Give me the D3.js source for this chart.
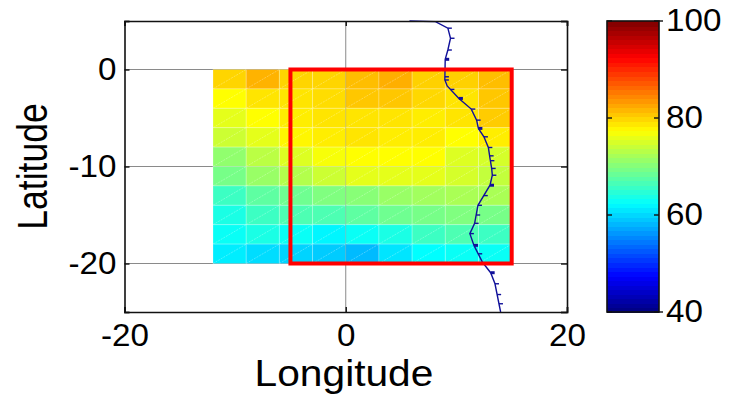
<!DOCTYPE html>
<html lang="en">

<head>
	<meta charset="UTF-8">
	<title>Latitude / Longitude map</title>
	<style>
		html, body { margin: 0; padding: 0; background: #fff; }
		svg { display: block; }
		text { font-family: "Liberation Sans", Arial, sans-serif; fill: #000; }
	</style>
</head>

<body>
	<div id="chart"></div>

	<script src="https://d3js.org/d3.v7.min.js"></script>
	<script>
		// data
		var lonEdges = [-12, -9, -6, -3, 0, 3, 6, 9, 12];
		var latEdges = [0, -2, -4, -6, -8, -10, -12, -14, -16, -18];
		var cellValues = [
			[80, 82, 80, 80, 81.3, 82.2, 80.2, 80.2, 81.3],
			[77.5, 79, 79, 79.5, 80.8, 80.8, 79.8, 79, 80.8],
			[76, 77.5, 78.5, 79, 79, 79, 78.5, 79, 80.5],
			[74.5, 76, 78, 78.5, 79, 78.5, 78.5, 77.5, 78.5],
			[71, 73.5, 75.5, 77, 77.5, 77.5, 77.5, 75.5, 75],
			[69.5, 71.5, 73, 74.5, 76, 76, 76, 75, 74],
			[66, 68, 69, 70, 70.5, 71.5, 72, 72.5, 72.5],
			[64, 66, 67, 67, 68, 69, 69.5, 70, 69.5],
			[63, 64, 63, 62, 63, 64, 66, 67, 66],
			[61.5, 60.5, 60, 59.5, 58.5, 61, 62.5, 63, 63]
		];
		var coastLon = [5.76, 8.11, 9.23, 9.47, 9.23, 8.99, 8.96, 9.17, 10.23, 11.35, 11.83, 11.99, 12.49, 12.89, 13.04, 13.19, 13.25, 13.04, 11.95, 11.65, 11.22, 11.59, 12.35, 13.1, 13.49, 13.85, 14.0];
		var coastLat = [5, 4.94, 4.26, 3.22, 2.01, 1.05, -1.08, -1.7, -2.98, -4.08, -5.22, -6.07, -6.94, -8.04, -9.17, -10.2, -10.9, -11.93, -14, -15.86, -16.92, -18.13, -19.86, -20.95, -22.09, -24.15, -25];
		var barbLats = [4.26, 3.22, 2.01, 1.05, -0.75, -1.08, -2.05, -2.98, -4.08, -5.22, -6.07, -6.94, -8.04, -8.9, -9.4, -10.2, -10.9, -11.93, -13, -14, -15, -15.86, -16.92, -18.13, -19, -20.95, -22.09, -23.2, -24.15];
		var boldBarbs = [1.05, -2.98, -6.07, -11.93, -18.13, -20.95];
		var boxLon = [-5, 15];
		var boxLat = [-20, 0];
		var xTicks = [-20, 0, 20];
		var yTicks = [-20, -10, 0];
		var yTickMarks = [-25, -20, -10, 0, 5];
		var barTicks = [40, 60, 80, 100];

		var width = 730,
			height = 394;

		var x = d3.scaleLinear().domain([-20, 20]).range([124.5, 567]);
		var y = d3.scaleLinear().domain([-25, 5]).range([312, 21]);
		var barY = d3.scaleLinear().domain([40, 100]).range([312, 21]);

		// jet colormap, 64 steps like matlab
		function jet(t) {
			var c = function (v) { return Math.round(255 * Math.max(0, Math.min(1, v))); };
			return 'rgb(' + c(1.5 - Math.abs(4 * t - 3)) + ',' + c(1.5 - Math.abs(4 * t - 2)) + ',' + c(1.5 - Math.abs(4 * t - 1)) + ')';
		}
		var color = function (v) { return jet((v - 40) / 60); };

		// the reference is stretched sideways a bit, so fit text along its baseline
		function widen(sel, k) {
			sel.each(function () {
				var w = this.getComputedTextLength();
				if (w > 0) {
					this.setAttribute('textLength', w * k);
					this.setAttribute('lengthAdjust', 'spacingAndGlyphs');
				}
			});
		}

		var svg = d3.select('#chart')
			.append('svg')
			.attr('width', width)
			.attr('height', height);

		// grid
		var grid = svg.append('g').attr('stroke', '#8a8a8a').attr('stroke-width', 1);
		grid.selectAll('.gx').data([0]).enter().append('line')
			.attr('x1', d => x(d)).attr('x2', d => x(d)).attr('y1', y(5)).attr('y2', y(-25));
		grid.selectAll('.gy').data(yTicks).enter().append('line')
			.attr('x1', x(-20)).attr('x2', x(20)).attr('y1', d => y(d)).attr('y2', d => y(d));

		// cells
		var cells = [];
		cellValues.forEach(function (row, r) {
			row.forEach(function (v, c) {
				cells.push({ lon: lonEdges[c], lat: latEdges[r], value: v });
			});
		});
		var cell = svg.append('g').selectAll('g').data(cells).enter().append('g');
		cell.append('rect')
			.attr('x', d => x(d.lon))
			.attr('y', d => y(d.lat))
			.attr('width', d => x(d.lon + 3) - x(d.lon))
			.attr('height', d => y(d.lat - 2) - y(d.lat))
			.attr('fill', d => color(d.value));
		cell.append('rect')
			.attr('x', d => x(d.lon))
			.attr('y', d => y(d.lat))
			.attr('width', d => x(d.lon + 3) - x(d.lon))
			.attr('height', d => y(d.lat - 2) - y(d.lat))
			.attr('fill', 'none')
			.attr('stroke', 'rgba(255,255,255,0.22)')
			.attr('stroke-width', 1);
		// the diagonals left by the triangle export
		cell.append('line')
			.attr('x1', d => x(d.lon))
			.attr('y1', d => y(d.lat - 2))
			.attr('x2', d => x(d.lon + 3))
			.attr('y2', d => y(d.lat))
			.attr('stroke', 'rgba(255,255,255,0.28)')
			.attr('stroke-width', 1)
			.attr('stroke-dasharray', '2 1');

		// zero meridian shows through the mesh
		svg.append('line')
			.attr('x1', x(0)).attr('x2', x(0)).attr('y1', y(0)).attr('y2', y(-20))
			.attr('stroke', 'rgba(0,0,0,0.15)');

		// coast
		var coast = coastLon.map((d, i) => [d, coastLat[i]]);
		svg.append('path')
			.attr('d', d3.line().x(d => x(d[0])).y(d => y(d[1]))(coast))
			.attr('fill', 'none')
			.attr('stroke', '#10109a')
			.attr('stroke-width', 1.4);

		var coastAt = d3.scaleLinear().domain(coastLat).range(coastLon);
		svg.append('g').selectAll('line').data(barbLats).enter().append('line')
			.attr('x1', d => x(coastAt(d)))
			.attr('x2', d => x(coastAt(d)) + 4)
			.attr('y1', d => y(d))
			.attr('y2', d => y(d))
			.attr('stroke', '#10109a')
			.attr('stroke-width', d => boldBarbs.indexOf(d) >= 0 ? 3 : 1.4);

		// red box
		svg.append('rect')
			.attr('x', x(boxLon[0]))
			.attr('y', y(boxLat[1]))
			.attr('width', x(boxLon[1]) - x(boxLon[0]))
			.attr('height', y(boxLat[0]) - y(boxLat[1]))
			.attr('fill', 'none')
			.attr('stroke', '#ff0000')
			.attr('stroke-width', 4);

		// axes frame, ticks point inwards on all sides
		var axisFont = 31;
		var fmt = d => d < 0 ? '-' + Math.abs(d) : String(d);
		var yFmt = d => yTicks.indexOf(d) >= 0 ? fmt(d) : '';
		svg.append('g')
			.attr('class', 'frame')
			.attr('transform', 'translate(0,' + y(-25) + ')')
			.call(d3.axisBottom(x).tickValues(xTicks).tickSize(-5).tickPadding(12).tickFormat(fmt));
		svg.append('g')
			.attr('class', 'frame')
			.attr('transform', 'translate(0,' + y(5) + ')')
			.call(d3.axisTop(x).tickValues(xTicks).tickSize(-5).tickFormat(''));
		svg.append('g')
			.attr('class', 'frame')
			.attr('transform', 'translate(' + x(-20) + ',0)')
			.call(d3.axisLeft(y).tickValues(yTickMarks).tickSize(-5).tickPadding(8).tickFormat(yFmt));
		svg.append('g')
			.attr('class', 'frame')
			.attr('transform', 'translate(' + x(20) + ',0)')
			.call(d3.axisRight(y).tickValues(yTickMarks).tickSize(-6).tickFormat(''));
		svg.selectAll('.frame .domain').attr('stroke', '#111').attr('stroke-width', 1.6);
		svg.selectAll('.frame .tick line').attr('stroke', '#111').attr('stroke-width', 1.4);
		svg.selectAll('.frame .tick text').style('font-size', axisFont + 'px').style('font-family', '"Liberation Sans"').attr('fill', '#000');
		widen(svg.selectAll('.frame .tick text'), 1.07);

		// axis titles
		svg.append('text')
			.attr('x', 344)
			.attr('y', 386)
			.attr('text-anchor', 'middle')
			.style('font-size', '37px')
			.text('Longitude')
			.call(widen, 1.1);
		svg.append('text')
			.attr('transform', 'translate(47,166.5) rotate(-90)')
			.attr('text-anchor', 'middle')
			.style('font-size', '42px')
			.text('Latitude')
			.call(widen, 0.845);

		// colorbar
		var barSteps = d3.range(64);
		var barX0 = 607, barX1 = 659;
		svg.append('g').selectAll('rect').data(barSteps).enter().append('rect')
			.attr('x', barX0)
			.attr('width', barX1 - barX0)
			.attr('y', d => barY(40 + (d + 1) * 60 / 64))
			.attr('height', d => barY(40 + d * 60 / 64) - barY(40 + (d + 1) * 60 / 64) + 1)
			.attr('shape-rendering', 'crispEdges')
			.attr('fill', d => jet((d + 0.5) / 64));
		svg.append('rect')
			.attr('x', barX0).attr('y', barY(100))
			.attr('width', barX1 - barX0).attr('height', barY(40) - barY(100))
			.attr('fill', 'none').attr('stroke', '#111').attr('stroke-width', 1.6);
		// inner ticks on both edges
		var barInner = svg.append('g').attr('stroke', '#111').attr('stroke-width', 1.4);
		barInner.selectAll('.l').data(barTicks).enter().append('line')
			.attr('x1', barX0).attr('x2', barX0 + 5).attr('y1', d => barY(d)).attr('y2', d => barY(d));
		barInner.selectAll('.r').data(barTicks).enter().append('line')
			.attr('x1', barX1 - 5).attr('x2', barX1).attr('y1', d => barY(d)).attr('y2', d => barY(d));
		var barAxis = svg.append('g')
			.attr('class', 'bar-axis')
			.attr('transform', 'translate(' + barX1 + ',0)')
			.call(d3.axisRight(barY).tickValues(barTicks).tickSize(0).tickPadding(7));
		barAxis.select('.domain').remove();
		barAxis.selectAll('.tick text').style('font-size', axisFont + 'px').style('font-family', '"Liberation Sans"').attr('fill', '#000');
		widen(barAxis.selectAll('.tick text'), 1.07);
		var barEnds = svg.append('g').attr('stroke', '#111').attr('stroke-width', 1.4);
		barEnds.selectAll('line').data([40, 100]).enter().append('line')
			.attr('x1', barX1).attr('x2', barX1 + 4).attr('y1', d => barY(d)).attr('y2', d => barY(d));
	</script>
</body>

</html>
